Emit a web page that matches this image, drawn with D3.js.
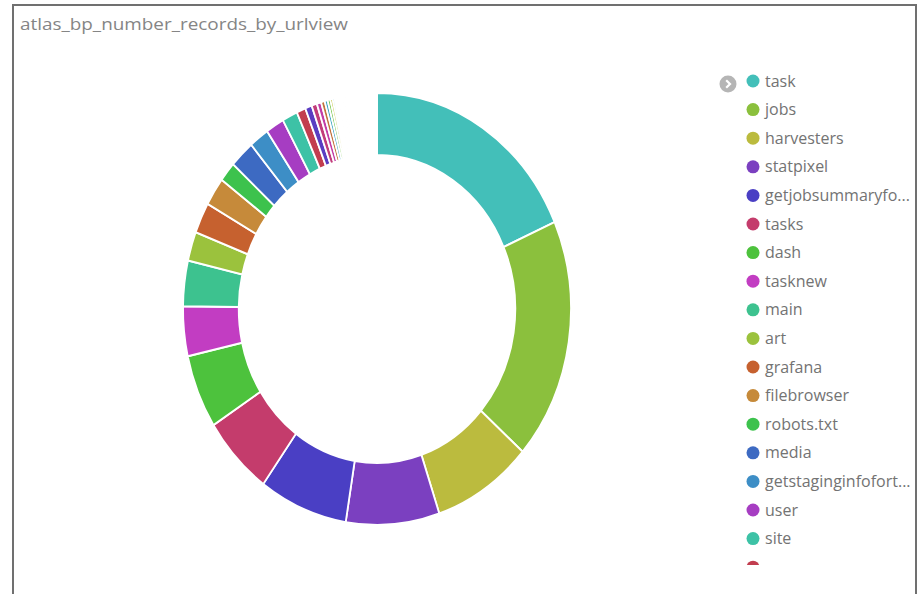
<!DOCTYPE html>
<html>
<head>
<meta charset="utf-8">
<script src="https://cdn.jsdelivr.net/npm/d3@7"></script>
<style>
  html, body { margin: 0; padding: 0; background: #fff; }
  svg { display: block; font-family: "Open Sans", "Noto Sans", sans-serif; }
</style>
</head>
<body>
<svg id="chart" width="918" height="594"></svg>
<script>
// Request counts per URL view (share of the ring, in arbitrary units)
const title = "atlas_bp_number_records_by_urlview";

const categories = [
  "task", "jobs", "harvesters", "statpixel", "getjobsummaryforuser",
  "tasks", "dash", "tasknew", "main", "art", "grafana", "filebrowser",
  "robots.txt", "media", "getstaginginfofortask", "user", "site",
  "errors", "status", "taskprofileplot", "worldview", "jobprofile",
  "api", "dashboards", "logs", "static",
  "v19", "v20", "v21", "v22", "v23", "v24", "v25", "v26", "v27", "v28",
  "v29", "v30", "v31", "v32", "v33", "v34", "v35", "v36", "v37", "v38",
  "v39", "v40", "v41", "v42", "v43", "v44", "v45", "v46", "v47", "v48"
];

const values = [
  66.0, 64.8, 29.8, 27.9, 26.5,
  21.5, 19.8, 13.3, 12.2, 7.8, 8.3, 7.6,
  5.3, 7.4, 5.9, 5.5, 4.6,
  2.7, 2.0, 1.6, 1.3, 1.1, 0.9, 0.8, 0.7, 0.6,
  0.42, 0.42, 0.42, 0.42, 0.42, 0.42, 0.42, 0.42, 0.42, 0.42,
  0.42, 0.42, 0.42, 0.42, 0.42, 0.42, 0.42, 0.42, 0.42, 0.42,
  0.42, 0.42, 0.42, 0.42, 0.42, 0.42, 0.42, 0.42, 0.42, 0.42
];

const colors = [
  "#43bfb9", "#8bc03d", "#bbbb3e", "#7b40c0", "#4a3fc4",
  "#c43c6c", "#4dc23d", "#c23dc2", "#3dc28f", "#9bc23d", "#c6612f", "#c68a3a",
  "#3dc24d", "#3d6ac2", "#3d8ec6", "#a63dc2", "#3dc2a6",
  "#c23d4f", "#5a3dc2", "#c23d7a", "#c23da6", "#c2733d", "#3da6c2", "#6bc23d", "#c2c23d", "#9ad0e8"
];

// rows of the legend that fit in its box; the last one is cut by the box edge
const legendRows = 18;

const svg = d3.select("#chart");

// panel frame
svg.append("path")
  .attr("d", "M13,600 L13,5 L916,5 L916,600")
  .attr("fill", "none")
  .attr("stroke", "#707070")
  .attr("stroke-width", 2);

svg.append("text")
  .attr("x", 20).attr("y", 30)
  .attr("font-size", 17)
  .attr("fill", "#858585")
  .attr("textLength", 328)
  .attr("lengthAdjust", "spacingAndGlyphs")
  .text(title);

const data = categories.map((c, i) => ({ name: c, value: values[i] }));
const color = d3.scaleOrdinal()
  .domain(categories)
  .range(categories.map((c, i) => colors[i % colors.length]));

// ring
const pie = d3.pie().value(d => d.value).sort(null);
const arc = d3.arc().innerRadius(154).outerRadius(216);

const ring = svg.append("g")
  .attr("transform", "translate(377,309) scale(0.898,1)");

ring.selectAll("path")
  .data(pie(data))
  .join("path")
  .attr("d", arc)
  .attr("fill", d => color(d.data.name))
  .attr("stroke", "#fff")
  .attr("stroke-width", 2);

// legend
svg.append("clipPath").attr("id", "legend-clip")
  .append("rect").attr("x", 700).attr("y", 60).attr("width", 214).attr("height", 505);

const legend = svg.append("g").attr("clip-path", "url(#legend-clip)");

const shown = categories.slice(0, legendRows);
const y = d3.scalePoint().domain(shown).range([81, 81 + 28.6 * (shown.length - 1)]);

const item = legend.selectAll("g.item")
  .data(shown)
  .join("g")
  .attr("class", "item")
  .attr("transform", d => `translate(0,${y(d)})`);

item.append("circle")
  .attr("cx", 753).attr("cy", 0).attr("r", 6.5)
  .attr("fill", d => color(d));

// labels, shortened with an ellipsis to the legend width
const maxLabelWidth = 146;
item.filter((d, i) => i < legendRows - 1)
  .append("text")
  .attr("x", 765)
  .attr("dy", "0.35em")
  .attr("font-size", 16)
  .attr("fill", "#737373")
  .each(function (d) {
    const t = d3.select(this).text(d);
    if (this.getComputedTextLength() <= maxLabelWidth) return;
    let s = d;
    while (s.length > 1) {
      s = s.slice(0, -1);
      t.text(s + "...");
      if (this.getComputedTextLength() <= maxLabelWidth) break;
    }
  });

// collapse toggle
const toggle = svg.append("g").attr("transform", "translate(728,84)");
toggle.append("circle").attr("r", 8.5).attr("fill", "#b5b5b5");
toggle.append("path")
  .attr("d", "M-1.8,-3.8 L2,0 L-1.8,3.8")
  .attr("fill", "none")
  .attr("stroke", "#fff")
  .attr("stroke-width", 2.2);
</script>
</body>
</html>
